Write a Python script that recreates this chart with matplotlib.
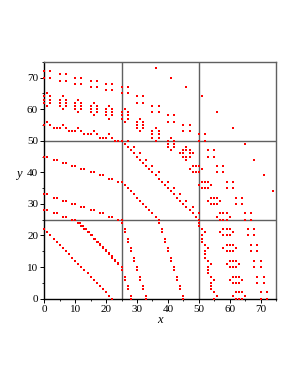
import matplotlib.pyplot as plt
from matplotlib.ticker import MultipleLocator

# --- data (upper-left half; the plot is mirror symmetric in y = x) ---
line22_x = [0, 1, 2, 3, 4, 5, 6, 7, 8, 9, 10, 11, 12, 13, 14, 15, 16, 17, 18, 19, 20, 21, 22]
line22_y = [22, 21, 20, 19, 18, 17, 16, 15, 14, 13, 12, 11, 10, 9, 8, 7, 6, 5, 4, 3, 2, 1, 0]

pairs33_x = [0, 1, 3, 4, 6, 7, 9, 10, 12, 13, 15, 16, 18, 19, 21, 22, 24, 25]
pairs33_y = [33, 33, 32, 32, 31, 31, 30, 30, 29, 29, 28, 28, 27, 27, 26, 26, 25, 25]

pairs28_x = [0, 1, 3, 4, 6, 7, 9, 10]
pairs28_y = [28, 28, 27, 27, 26, 26, 25, 25]

# the x + y = 35 segment looks doubled (two marks per step)
line35_x = [11, 12, 13, 14, 15, 16, 17, 11.4, 12.4, 13.4, 14.4, 15.4, 16.4, 17.4]
line35_y = [24, 23, 22, 21, 20, 19, 18, 24, 23, 22, 21, 20, 19, 18]

pairs45_x = [0, 1, 3, 4, 6, 7, 9, 10, 12, 13, 15, 16, 18, 19, 21, 22, 24, 25]
pairs45_y = [45, 45, 44, 44, 43, 43, 42, 42, 41, 41, 40, 40, 39, 39, 38, 38, 37, 37]

line62_x = [26, 27, 28, 29, 30, 31]
line62_y = [36, 35, 34, 33, 32, 31]

row55_x = [0, 1, 2, 3, 4, 5, 6, 7, 8, 9, 10, 11, 12, 13, 14, 15, 16, 17, 18, 19, 20, 21, 22, 23, 24, 25]
row55_y = [55, 56, 55, 54, 54, 54, 55, 54, 53, 53, 53, 54, 53, 52, 52, 52, 53, 52, 51, 51, 51, 52, 51, 50, 50, 50]

ribbon_x = [26, 27, 28, 29, 30, 31, 32, 33, 34, 35, 36, 37, 27, 29, 31, 33, 35, 37]
ribbon_y = [49, 48, 47, 46, 45, 44, 43, 42, 41, 40, 39, 38, 50, 48, 46, 44, 42, 40]

oval_cx = [1, 6, 11, 16, 21, 26, 31, 36, 41, 46]
oval_cy = [63, 62, 61, 60, 59, 58, 55, 52, 49, 46]
oval_dx = [-1, -1, -1, 1, 1, 1, 0, 0]
oval_dy = [-1, 0, 1, -1, 0, 1, -2, 2]

square_x = [0, 5, 10, 15, 20, 25, 30, 35, 40, 45, 50]
square_y = [72, 71, 70, 69, 68, 67, 64, 61, 58, 55, 52]
square_dx = [0, 2, 0, 2]
square_dy = [0, 0, -2, -2]

# single points, not symmetric
lone_x = [36, 41, 46, 51, 56, 61, 65, 68, 71, 74]
lone_y = [73, 70, 67, 64, 59, 54, 49, 44, 39, 34]

xs, ys = [], []
for gx, gy in [(pairs33_x, pairs33_y), (pairs28_x, pairs28_y), (line35_x, line35_y),
               (pairs45_x, pairs45_y), (line62_x, line62_y), (row55_x, row55_y),
               (ribbon_x, ribbon_y)]:
    xs += gx + gy
    ys += gy + gx
for cx, cy in zip(oval_cx, oval_cy):
    for dx, dy in zip(oval_dx, oval_dy):
        xs += [cx + dx, cy + dy]
        ys += [cy + dy, cx + dx]
for cx, cy in zip(square_x, square_y):
    for dx, dy in zip(square_dx, square_dy):
        xs += [cx + dx, cy + dy]
        ys += [cy + dy, cx + dx]
xs += line22_x + lone_x
ys += line22_y + lone_y

plt.rcParams['font.family'] = ['Liberation Serif', 'DejaVu Serif']
fig = plt.figure(figsize=(2.98, 3.85), dpi=100)
ax = fig.add_axes([0.1487, 0.2242, 0.7775, 0.6155])

for v in [25, 50]:
    ax.axvline(v, color='#606060', lw=1.0, zorder=1)
    ax.axhline(v, color='#606060', lw=1.0, zorder=1)

ax.plot(xs, ys, 's', color='#ff0000', ms=1.9, mew=0, zorder=3, clip_on=False)

ax.set_xlim(0, 75)
ax.set_ylim(0, 75)
ax.xaxis.set_major_locator(MultipleLocator(10))
ax.yaxis.set_major_locator(MultipleLocator(10))
ax.xaxis.set_minor_locator(MultipleLocator(5))
ax.yaxis.set_minor_locator(MultipleLocator(5))
ax.tick_params(which='major', length=3, width=0.7, labelsize=8, pad=1.5)
ax.tick_params(which='minor', length=1.5, width=0.6)
for s in ['left', 'bottom']:
    ax.spines[s].set_color('black')
    ax.spines[s].set_linewidth(1.0)
for s in ['top', 'right']:
    ax.spines[s].set_color('#606060')
    ax.spines[s].set_linewidth(1.0)
ax.set_xlabel('x', style='italic', fontsize=9, labelpad=0)
ax.set_ylabel('y', style='italic', fontsize=9, rotation=0, labelpad=6)

fig.savefig('out.png', dpi=100)
